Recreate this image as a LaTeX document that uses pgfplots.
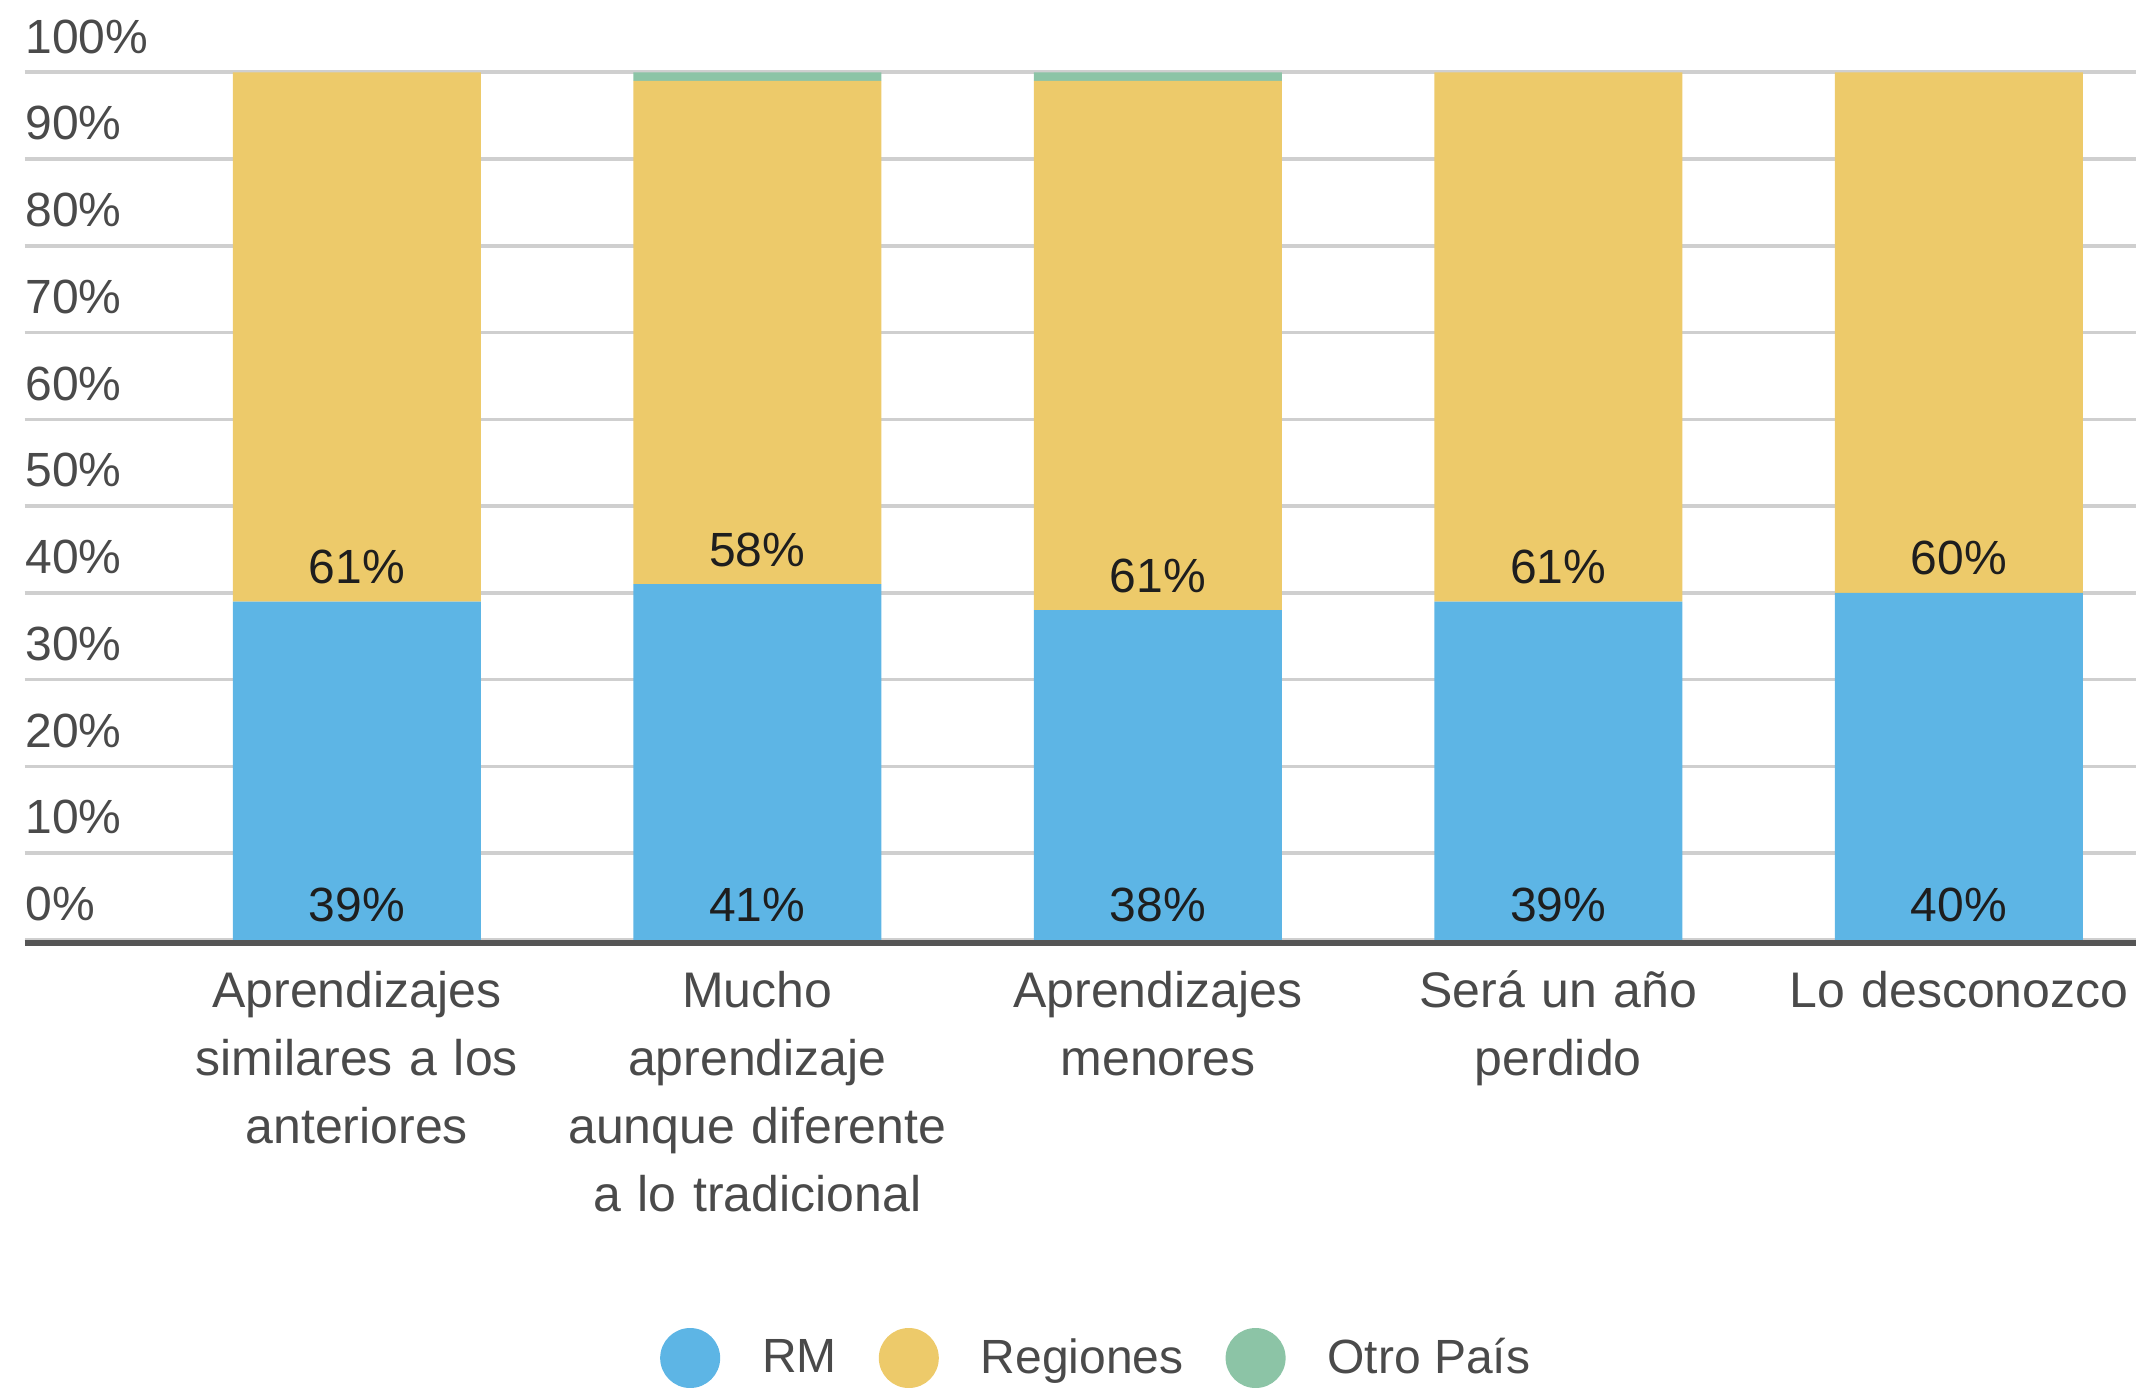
\documentclass[border=0pt]{standalone}
\usepackage{pgfplots}
\pgfplotsset{compat=1.18}
\usepackage{pgfplotstable}
\usepackage{fontspec}
\setmainfont{Liberation Sans}
\definecolor{rmblue}{HTML}{5DB5E5}
\definecolor{regyellow}{HTML}{EDCA6A}
\definecolor{otrogreen}{HTML}{8CC4A6}
\definecolor{gridgray}{HTML}{CFCFCF}
\definecolor{basegray}{HTML}{555555}
\definecolor{ticktext}{HTML}{4A4A4A}
\definecolor{labeltext}{HTML}{1E1E1E}

\pgfplotstableread{
x rm reg otro
0 39 61 0
1 41 58 1
2 38 61 1
3 39 61 0
4 40 60 0
}\datatable

\begin{document}
\begin{tikzpicture}
\path[use as bounding box] (0,0) rectangle (534pt,347pt);
\clip (0,0) rectangle (534pt,347pt);
\begin{axis}[
  at={(6.13pt,112.02pt)}, anchor=south west,
  scale only axis, width=527.87pt, height=216.9pt,
  /pgf/number format/assume math mode=true,
  ybar stacked, bar width=62pt,
  xmin=-0.8297, xmax=4.4425, ymin=0, ymax=100,
  axis line style={draw=none},
  major tick length=0pt,
  ytick={0,10,...,100},
  yticklabel={\pgfmathprintnumber{\tick}\%},
  yticklabel style={anchor=south west, inner sep=0pt, yshift=4.5pt, text=ticktext, font=\fontsize{12}{14.4}\selectfont},
  ymajorgrids, grid style={gridgray, line width=0.9pt},
  xtick={0,1,2,3,4},
  xticklabels={{Aprendizajes\\similares a los\\anteriores},{Mucho\\aprendizaje\\aunque diferente\\a lo tradicional},{Aprendizajes\\menores},{Será un año\\perdido},{Lo desconozco}},
  xticklabel style={anchor=base, align=center, text width=130pt, inner sep=0pt, yshift=-17pt, text=ticktext, font=\fontsize{12.5}{17}\selectfont},
  legend style={at={(0.5071,-0.4819)}, anchor=center, draw=none, fill=none, inner sep=0pt,
    legend columns=-1, font=\fontsize{12}{14.4}\selectfont, text=ticktext,
    nodes={inner sep=0pt},
    /tikz/every odd column/.append style={column sep=10.5pt},
    /tikz/every even column/.append style={column sep=10.5pt}},
  legend image code/.code={\fill[#1] (7.5pt,0.3pt) circle (7.5pt);},
  every node near coord/.append style={font=\fontsize{12}{14.4}\selectfont, text=labeltext, inner sep=0pt},
  after end axis/.code={\draw[basegray, line width=1.5pt] ([yshift=-0.75pt]rel axis cs:0,0) -- ([yshift=-0.75pt]rel axis cs:1,0);},
]
\addplot[fill=rmblue, draw=none, point meta=explicit,
  nodes near coords={\pgfmathprintnumber{\pgfplotspointmeta}\%},
  visualization depends on={rawy \as \segh},
  every node near coord/.append style={anchor=base, yshift={4.5pt-1.0845pt*\segh}}]
  table[x=x, y=rm, meta=rm] {\datatable};
\addplot[fill=regyellow, draw=none, point meta=explicit,
  nodes near coords={\pgfmathprintnumber{\pgfplotspointmeta}\%},
  visualization depends on={rawy \as \segh},
  every node near coord/.append style={anchor=base, yshift={4.5pt-1.0845pt*\segh}}]
  table[x=x, y=reg, meta=reg] {\datatable};
\addplot[fill=otrogreen, draw=none] table[x=x, y=otro] {\datatable};
\legend{RM, Regiones, Otro País}
\end{axis}
\end{tikzpicture}
\end{document}
